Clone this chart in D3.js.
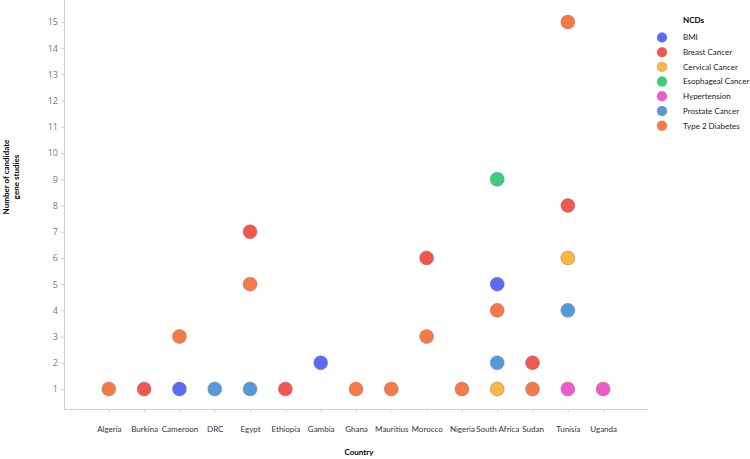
<!DOCTYPE html>
<html>
<head>
<meta charset="utf-8">
<script src="https://cdn.jsdelivr.net/npm/d3@7"></script>
<style>
  body { margin: 0; background: #fff; }
  text { font-family: Lato, "Open Sans", "Liberation Sans", sans-serif; }
</style>
</head>
<body>
<script>
var width = 750,
  height = 459;
var margin = { top: 0, bottom: 50, left: 64, right: 102 };

// Data
var countries = ["Algeria", "Burkina", "Cameroon", "DRC", "Egypt", "Ethiopia", "Gambia", "Ghana",
  "Mauritius", "Morocco", "Nigeria", "South Africa", "Sudan", "Tunisia", "Uganda"];
var ncds = ["BMI", "Breast Cancer", "Cervical Cancer", "Esophageal Cancer", "Hypertension",
  "Prostate Cancer", "Type 2 Diabetes"];
var colors = ["#5a6cf3", "#f1574f", "#fbb741", "#3ccd7f", "#ee5ccb", "#5599dd", "#f67a48"];
var yTicks = [1, 2, 3, 4, 5, 6, 7, 8, 9, 10, 11, 12, 13, 14, 15];

// one array per NCD: [country, count]
var bmi = [["Cameroon", 1], ["Gambia", 2], ["South Africa", 5]];
var breast = [["Burkina", 1], ["Egypt", 7], ["Ethiopia", 1], ["Morocco", 6], ["Sudan", 2], ["Tunisia", 8]];
var cervical = [["South Africa", 1], ["Tunisia", 6]];
var esophageal = [["South Africa", 9]];
var hypertension = [["Tunisia", 1], ["Uganda", 1]];
var prostate = [["DRC", 1], ["Egypt", 1], ["South Africa", 2], ["Tunisia", 4]];
var diabetes = [["Algeria", 1], ["Cameroon", 3], ["Egypt", 5], ["Ghana", 1], ["Mauritius", 1],
  ["Morocco", 3], ["Nigeria", 1], ["South Africa", 4], ["Sudan", 1], ["Tunisia", 15]];

var series = [bmi, breast, cervical, esophageal, hypertension, prostate, diabetes];
var points = [];
series.forEach(function(s, i) {
  s.forEach(function(d) {
    points.push({ country: d[0], value: d[1], ncd: ncds[i] });
  });
});

var svg = d3.select('body')
  .append('svg')
  .attr('width', width)
  .attr('height', height);

// Scales
var xScale = d3.scalePoint()
  .domain(countries)
  .range([margin.left, width - margin.right])
  .padding(1.27);

var yScale = d3.scaleLinear()
  .domain([0.237, 15.84])
  .range([height - margin.bottom, margin.top]);

var color = d3.scaleOrdinal().domain(ncds).range(colors);

// Axes
var xAxis = svg.append('g')
  .attr("transform", `translate(0,${height - margin.bottom})`)
  .call(d3.axisBottom(xScale).tickSize(3).tickSizeOuter(0).tickPadding(14));
xAxis.select(".domain").attr("stroke", "#c9cde0");
xAxis.selectAll(".tick line").attr("stroke", "#c9cde0");
xAxis.selectAll(".tick text")
  .style("font-size", "8px")
  .attr("fill", "#333");

var yAxis = svg.append('g')
  .attr("transform", `translate(${margin.left},0)`)
  .call(d3.axisLeft(yScale).tickValues(yTicks).tickSize(3).tickSizeOuter(0).tickPadding(3));
yAxis.select(".domain").attr("stroke", "#c9cde0");
yAxis.selectAll(".tick line").attr("stroke", "#c9cde0");
yAxis.selectAll(".tick text")
  .style("font-family", "'Open Sans', sans-serif")
  .style("font-size", "9px")
  .attr("fill", "#777");

// Axis titles
svg.append("text")
  .attr("x", 359)
  .attr("y", 455)
  .attr("text-anchor", "middle")
  .style("font-size", "8px")
  .style("font-weight", "bold")
  .text("Country");

var yTitle = svg.append("text")
  .attr("transform", "translate(10,177) rotate(-90)")
  .attr("text-anchor", "middle")
  .style("font-size", "8px")
  .style("font-weight", "bold");
yTitle.append("tspan").attr("x", 0).attr("dy", "-0.1em").text("Number of candidate");
yTitle.append("tspan").attr("x", 0).attr("dy", "1.2em").text("gene studies");

// Points
svg.selectAll('.dot')
  .data(points)
  .enter()
  .append('circle')
  .attr("class", "dot")
  .attr("cx", function(d) { return xScale(d.country); })
  .attr("cy", function(d) { return yScale(d.value); })
  .attr("r", 7)
  .attr("fill", function(d) { return color(d.ncd); })
  .attr("stroke", "#8a7d78")
  .attr("stroke-opacity", 0.6)
  .attr("stroke-width", 0.8);

// Legend
svg.append("text")
  .attr("x", 683)
  .attr("y", 23)
  .style("font-size", "8px")
  .style("font-weight", "bold")
  .text("NCDs");

var legend = svg.selectAll('.legend')
  .data(ncds)
  .enter()
  .append('g')
  .attr("class", "legend")
  .attr("transform", function(d, i) { return `translate(662,${37.5 + i * 14.7})`; });

legend.append("circle")
  .attr("r", 5)
  .attr("fill", function(d) { return color(d); })
  .attr("stroke", "#8a7d78")
  .attr("stroke-opacity", 0.4)
  .attr("stroke-width", 0.6);

legend.append("text")
  .attr("x", 21)
  .attr("y", 0)
  .attr("dy", "0.35em")
  .style("font-size", "8px")
  .attr("fill", "#222")
  .text(function(d) { return d; });
</script>
</body>
</html>
